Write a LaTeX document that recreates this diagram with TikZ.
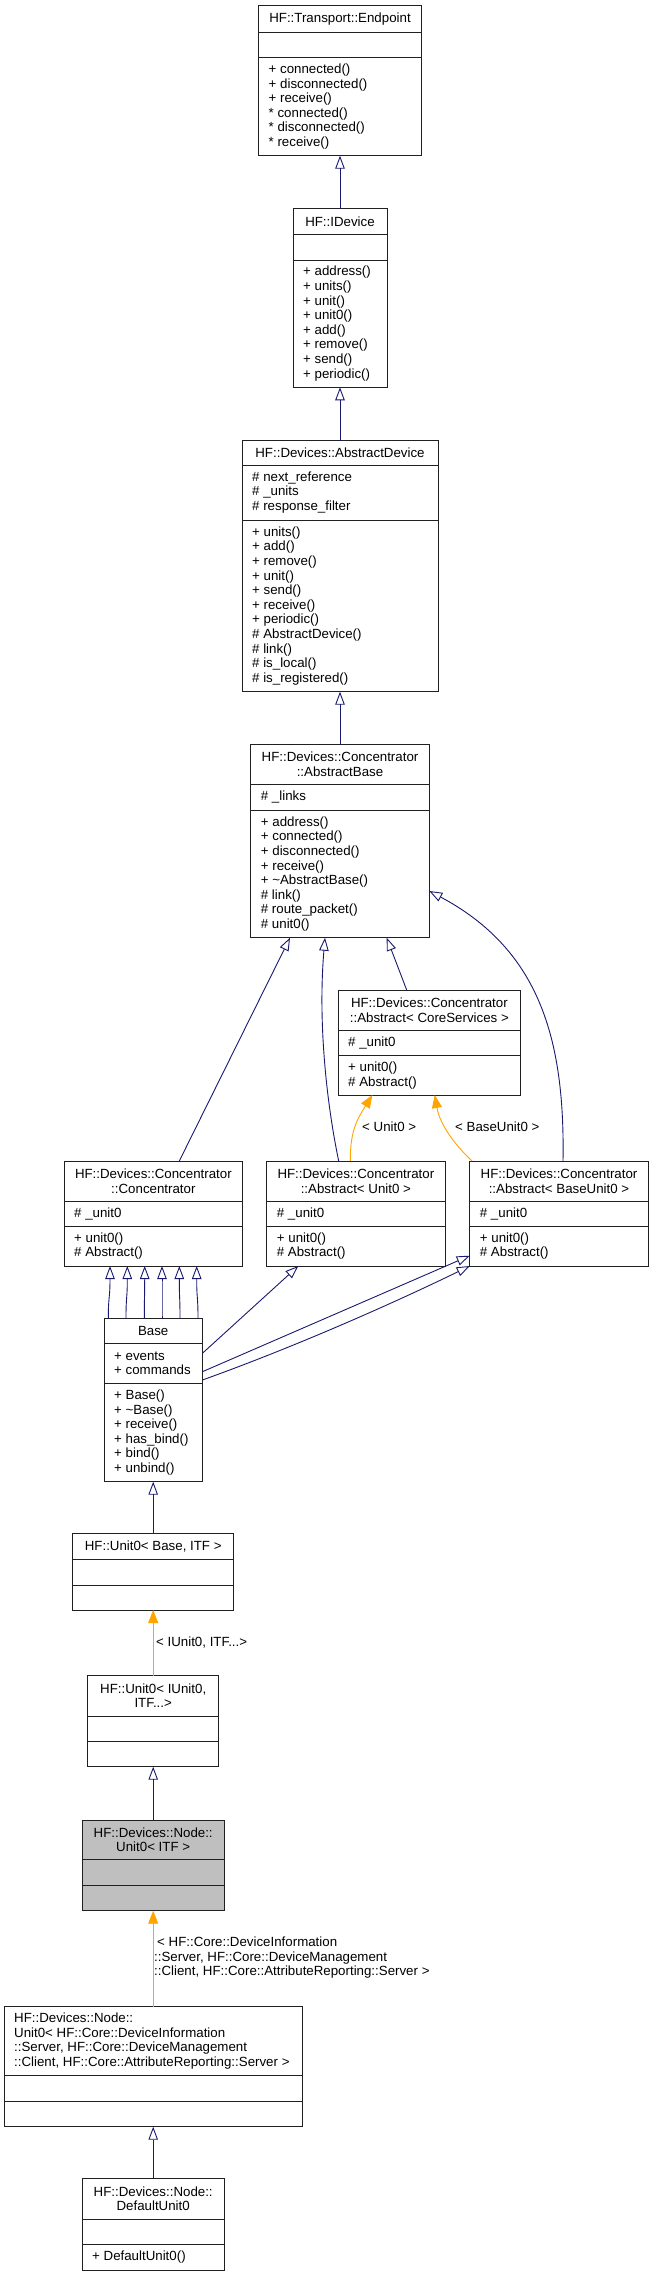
\documentclass[tikz,border=0pt]{standalone}
\usepackage{fontspec}
\setmainfont{Liberation Sans}
\usetikzlibrary{arrows.meta,fit}
\definecolor{edgeblue}{HTML}{191970}
\definecolor{tmplorange}{HTML}{FFA500}
\definecolor{boxgray}{HTML}{BFBFBF}
\definecolor{boxline}{HTML}{202020}
\newcommand{\dfont}{\fontsize{13.3pt}{14.6pt}\selectfont}
\tikzset{
  clsframe/.style={draw=boxline, line width=1pt, inner sep=0pt, outer sep=0pt},
  divider/.style={draw=boxline, line width=1pt},
  ttl/.style={inner sep=0pt, align=center, font=\dfont},
  ttlleft/.style={inner sep=0pt, anchor=west, align=left, font=\dfont},
  mem/.style={inner sep=0pt, anchor=west, align=left, font=\dfont},
  lbl/.style={inner sep=0pt, anchor=west, align=left, font=\dfont},
  inh/.style={draw=edgeblue, line width=0.9pt, -{Triangle[open, length=13pt, width=9.5pt]}},
  tmpl/.style={draw=tmplorange, line width=0.9pt, -{Triangle[length=13pt, width=10pt]}, fill=none},
}
% box: [fill]{name}{left}{top}{right}{bottom}{div1}{div2}
\newcommand{\clsbox}[8][white]{%
  \gdef\bxn{#2}\gdef\bxl{#3}\gdef\bxt{#4}\gdef\bxr{#5}\gdef\bxb{#6}\gdef\bxa{#7}\gdef\bxm{#8}%
  \node[clsframe, fill=#1, fit={(#3,#4) (#5,#6)}] (#2) {};
  \draw[divider] (#3,#7) -- (#5,#7);
  \draw[divider] (#3,#8) -- (#5,#8);
}
\newcommand{\clstitle}[1]{\node[ttl] (\bxn-t) at ({(\bxl+\bxr)/2},{(\bxt+\bxa)/2}) {#1};}
\newcommand{\clstitleleft}[1]{\node[ttlleft] (\bxn-t) at ({\bxl+10},{(\bxt+\bxa)/2}) {#1};}
\newcommand{\clsattr}[1]{\node[mem] (\bxn-a) at ({\bxl+10},{(\bxa+\bxm)/2}) {#1};}
\newcommand{\clsmeth}[1]{\node[mem] (\bxn-m) at ({\bxl+10},{(\bxm+\bxb)/2}) {#1};}
\begin{document}
\begin{tikzpicture}[x=1pt, y=-1pt]
\fill[white] (0,0) rectangle (653,2277);
\useasboundingbox (0,0) rectangle (653,2277);

% HF::Transport::Endpoint
\clsbox{endpoint}{258.5}{6}{421.5}{155.7}{32.3}{57.3}
\clstitle{HF::Transport::Endpoint}
\clsmeth{+ connected()\\+ disconnected()\\+ receive()\\* connected()\\* disconnected()\\* receive()}

% HF::IDevice
\clsbox{idevice}{293}{209}{387}{387.3}{234}{260}
\clstitle{HF::IDevice}
\clsmeth{+ address()\\+ units()\\+ unit()\\+ unit0()\\+ add()\\+ remove()\\+ send()\\+ periodic()}

% HF::Devices::AbstractDevice
\clsbox{adevice}{242}{440.7}{438}{691.7}{465}{520}
\clstitle{HF::Devices::AbstractDevice}
\clsattr{\# next\_reference\\\# \_units\\\# response\_filter}
\clsmeth{+ units()\\+ add()\\+ remove()\\+ unit()\\+ send()\\+ receive()\\+ periodic()\\\# AbstractDevice()\\\# link()\\\# is\_local()\\\# is\_registered()}

% AbstractBase
\clsbox{abase}{250.7}{744.3}{429.3}{937.7}{784.3}{810}
\clstitle{HF::Devices::Concentrator\\::AbstractBase}
\clsattr{\# \_links}
\clsmeth{+ address()\\+ connected()\\+ disconnected()\\+ receive()\\+ \textasciitilde AbstractBase()\\\# link()\\\# route\_packet()\\\# unit0()}

% Abstract< CoreServices >
\clsbox{coresvc}{338}{990}{520.7}{1095}{1030}{1055.7}
\clstitle{HF::Devices::Concentrator\\::Abstract< CoreServices >}
\clsattr{\# \_unit0}
\clsmeth{+ unit0()\\\# Abstract()}

% Concentrator
\clsbox{conc}{64}{1161}{242.7}{1266}{1201}{1226}
\clstitle{HF::Devices::Concentrator\\::Concentrator}
\clsattr{\# \_unit0}
\clsmeth{+ unit0()\\\# Abstract()}

% Abstract< Unit0 >
\clsbox{au0}{266.7}{1161}{445}{1266}{1201}{1226}
\clstitle{HF::Devices::Concentrator\\::Abstract< Unit0 >}
\clsattr{\# \_unit0}
\clsmeth{+ unit0()\\\# Abstract()}

% Abstract< BaseUnit0 >
\clsbox{abu0}{469.7}{1161}{648.3}{1266}{1201}{1226}
\clstitle{HF::Devices::Concentrator\\::Abstract< BaseUnit0 >}
\clsattr{\# \_unit0}
\clsmeth{+ unit0()\\\# Abstract()}

% Base
\clsbox{base}{104}{1318.3}{202.4}{1481.7}{1343.3}{1383.3}
\clstitle{Base}
\clsattr{+ events\\+ commands}
\clsmeth{+ Base()\\+ \textasciitilde Base()\\+ receive()\\+ has\_bind()\\+ bind()\\+ unbind()}

% HF::Unit0< Base, ITF >
\clsbox{u0base}{72.7}{1533.3}{233.7}{1610}{1559.3}{1585}
\clstitle{HF::Unit0< Base, ITF >}

% HF::Unit0< IUnit0, ITF...>
\clsbox{u0iu}{87.7}{1675.7}{218.7}{1766.7}{1716}{1741.7}
\clstitle{HF::Unit0< IUnit0,\\ITF...>}

% HF::Devices::Node::Unit0< ITF >
\clsbox[boxgray]{nu0}{82}{1820}{224.4}{1910.7}{1859.3}{1885}
\clstitle{HF::Devices::Node::\\Unit0< ITF >}

% big instantiation
\clsbox{big}{4}{2006.7}{302.4}{2126.7}{2075.7}{2101.7}
\clstitleleft{HF::Devices::Node::\\Unit0< HF::Core::DeviceInformation\\::Server, HF::Core::DeviceManagement\\::Client, HF::Core::AttributeReporting::Server >}

% DefaultUnit0
\clsbox{du0}{82}{2178.3}{224.4}{2270}{2219.3}{2244.3}
\clstitle{HF::Devices::Node::\\DefaultUnit0}
\clsmeth{+ DefaultUnit0()}

% ---- connectors ----
\draw[inh] (idevice) -- (endpoint);
\draw[inh] (adevice) -- (idevice);
\draw[inh] (abase) -- (adevice);

\draw[inh] (conc.north -| 179.3,0) -- (abase.south -| 290,0);
\draw[inh] (au0.north -| 338.7,0) .. controls (326,1100) and (318,1020) .. (abase.south -| 325,0);
\draw[inh] (coresvc.north -| 406.7,0) -- (abase.south -| 386.7,0);
\draw[inh] (abu0.north -| 563,0) .. controls (565,1040) and (540,950) .. (abase.east |- 0,891);

\draw[tmpl] (au0.north -| 350.3,0) .. controls (350,1130) and (358,1118) .. (coresvc.south -| 372.3,0);
\draw[tmpl] (abu0.north -| 472,0) .. controls (455,1145) and (440,1125) .. (coresvc.south -| 434.7,0);
\node[lbl] (lab-unit0) at (362,1126.7) {< Unit0 >};
\node[lbl] (lab-baseunit0) at (455,1126.7) {< BaseUnit0 >};

\foreach \a/\b in {108.3/110, 126/127.3, 144.3/144.7, 162/162, 180/179.3, 198/196.7}
  \draw[inh] (base.north -| \a,0) .. controls (\a,1295) and (\b,1300) .. (conc.south -| \b,0);
\draw[inh] (base.east |- 0,1353.3) -- (au0.south -| 298.3,0);
\draw[inh] (base.east |- 0,1371.7) -- (abu0.west |- 0,1255.7);
\draw[inh] (base.east |- 0,1380) .. controls (300,1345) and (400,1300) .. (abu0.west |- 0,1266);

\draw[inh] (u0base) -- (base);
\draw[tmpl] (u0iu) -- (u0base);
\node[lbl] (lab-iunit0) at (156,1642.3) {< IUnit0, ITF...>};
\draw[inh] (nu0) -- (u0iu);
\draw[tmpl] (big) -- (nu0);
\node[lbl] (lab-big) at (154,1957.7) {\kern3pt< HF::Core::DeviceInformation\\::Server, HF::Core::DeviceManagement\\::Client, HF::Core::AttributeReporting::Server >};
\draw[inh] (du0) -- (big);
\end{tikzpicture}
\end{document}
